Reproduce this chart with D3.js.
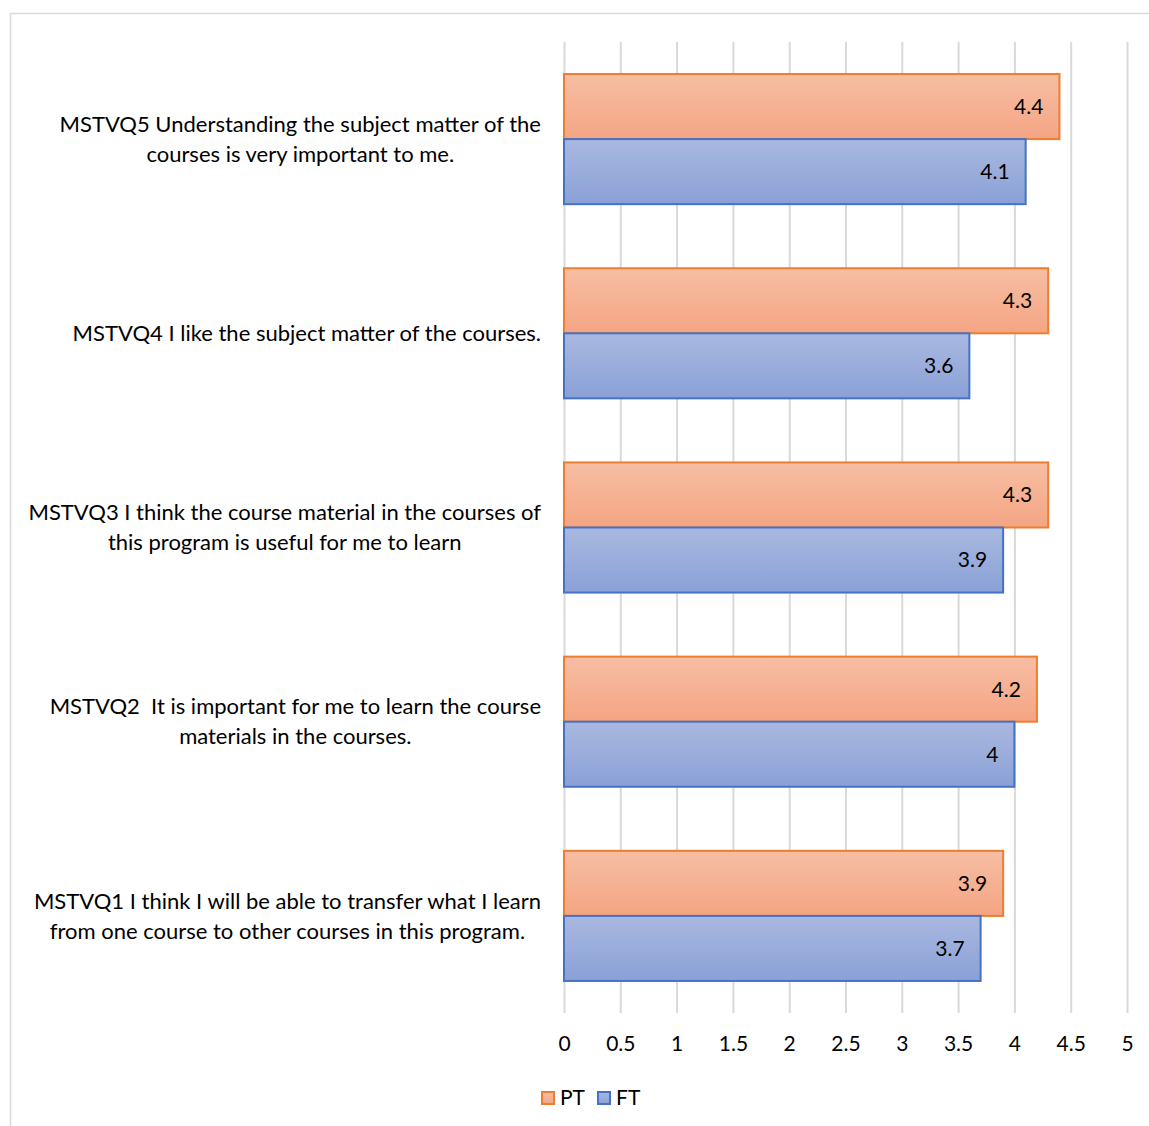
<!DOCTYPE html>
<html>
<head>
<meta charset="utf-8">
<script src="https://cdn.jsdelivr.net/npm/d3@7"></script>
<style>
  html, body { margin: 0; padding: 0; background: #fff; }
  svg { display: block; font-family: Lato, "Open Sans", sans-serif; }
  svg text { white-space: pre; }
</style>
</head>
<body>
<svg id="chart" width="1149" height="1126"></svg>
<script>
// Survey items, listed top to bottom
const categories = [
  ["MSTVQ5 Understanding the subject matter of the", "courses is very important to me."],
  ["MSTVQ4 I like the subject matter of the courses."],
  ["MSTVQ3 I think the course material in the courses of", "this program is useful for me to learn"],
  ["MSTVQ2  It is important for me to learn the course", "materials in the courses."],
  ["MSTVQ1 I think I will be able to transfer what I learn", "from one course to other courses in this program."]
];
const seriesNames = ["PT", "FT"];
const ptValues = [4.4, 4.3, 4.3, 4.2, 3.9];
const ftValues = [4.1, 3.6, 3.9, 4.0, 3.7];
const tickValues = [0, 0.5, 1, 1.5, 2, 2.5, 3, 3.5, 4, 4.5, 5];

const svg = d3.select("#chart");

// Chart frame (top and left edges)
svg.append("line").attr("x1", 10.5).attr("x2", 1149).attr("y1", 13.5).attr("y2", 13.5)
  .attr("stroke", "#d9d9d9").attr("stroke-width", 1.5);
svg.append("line").attr("x1", 10.5).attr("x2", 10.5).attr("y1", 13.5).attr("y2", 1126)
  .attr("stroke", "#d9d9d9").attr("stroke-width", 1.5);

const plot = { left: 564, right: 1127, top: 42, bottom: 1013 };

const x = d3.scaleLinear().domain([0, 5]).range([plot.left, plot.right]);
const y = d3.scaleBand().domain(d3.range(categories.length))
  .range([plot.top, plot.bottom]).paddingInner(0.33).paddingOuter(0.165);
const sub = d3.scaleBand().domain(seriesNames).range([0, y.bandwidth()]);

// Gradients for bar fills
const defs = svg.append("defs");
const grads = {
  PT: { top: "#f7bea3", bottom: "#f4a583", stroke: "#ed7d31" },
  FT: { top: "#a9b8e0", bottom: "#8aa1d7", stroke: "#4472c4" }
};
Object.entries(grads).forEach(([k, g]) => {
  const lg = defs.append("linearGradient").attr("id", "g" + k)
    .attr("x1", 0).attr("y1", 0).attr("x2", 0).attr("y2", 1);
  lg.append("stop").attr("offset", "0%").attr("stop-color", g.top);
  lg.append("stop").attr("offset", "100%").attr("stop-color", g.bottom);
});

// Vertical gridlines
svg.append("g")
  .attr("transform", `translate(0,${plot.bottom})`)
  .call(d3.axisBottom(x).tickValues(tickValues).tickSize(-(plot.bottom - plot.top)).tickFormat(""))
  .call(g => g.select(".domain").remove())
  .call(g => g.selectAll(".tick line").attr("stroke", "#d9d9d9").attr("stroke-width", 2));

// Tick labels
svg.append("g")
  .attr("transform", `translate(0,${plot.bottom})`)
  .call(d3.axisBottom(x).tickValues(tickValues).tickSize(0).tickPadding(23).tickFormat(d3.format("")))
  .call(g => g.select(".domain").remove())
  .call(g => g.selectAll("text").attr("font-size", 21).attr("fill", "#000")
    .attr("font-family", "Lato, 'Open Sans', sans-serif"));

// Bars
const series = [
  { name: "PT", values: ptValues },
  { name: "FT", values: ftValues }
];
series.forEach(s => {
  const g = svg.append("g");
  g.selectAll("rect").data(s.values).join("rect")
    .attr("x", x(0))
    .attr("y", (d, i) => y(i) + sub(s.name))
    .attr("width", d => x(d) - x(0))
    .attr("height", sub.bandwidth())
    .attr("fill", `url(#g${s.name})`)
    .attr("stroke", grads[s.name].stroke)
    .attr("stroke-width", 2);
  g.selectAll("text").data(s.values).join("text")
    .attr("x", d => x(d) - 16)
    .attr("y", (d, i) => y(i) + sub(s.name) + sub.bandwidth() / 2)
    .attr("dy", "0.35em")
    .attr("text-anchor", "end")
    .attr("font-size", 21)
    .attr("fill", "#000")
    .text(d => d3.format("")(d));
});

// Category labels: wrapped lines centered on each other, block right-aligned to the axis
const labelRight = 541;
const lineH = 30;
categories.forEach((lines, i) => {
  const g = svg.append("g");
  const cy = y(i) + y.bandwidth() / 2;
  const texts = lines.map((t, j) => g.append("text")
    .attr("font-size", 22).attr("fill", "#000")
    .attr("text-anchor", "middle")
    .attr("y", cy + (j - (lines.length - 1) / 2) * lineH)
    .attr("dy", "0.35em")
    .text(t));
  const maxW = d3.max(texts, t => t.node().getComputedTextLength());
  texts.forEach(t => t.attr("x", labelRight - maxW / 2));
});

// Legend
const legend = svg.append("g").attr("transform", "translate(541,1098)");
let lx = 0;
seriesNames.forEach(n => {
  legend.append("rect").attr("x", lx + 1).attr("y", -6).attr("width", 12).attr("height", 12)
    .attr("fill", `url(#g${n})`).attr("stroke", grads[n].stroke).attr("stroke-width", 2);
  legend.append("text").attr("x", lx + 19).attr("y", 0).attr("dy", "0.35em")
    .attr("font-size", 21).attr("fill", "#000").text(n);
  lx += 56;
});
</script>
</body>
</html>
